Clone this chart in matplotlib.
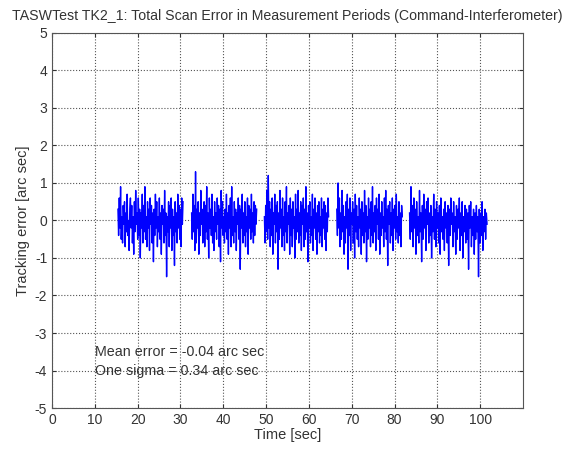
import numpy as np
import matplotlib
matplotlib.use("Agg")
from matplotlib import pyplot as plt

plt.rcParams['font.family'] = ['Liberation Sans', 'DejaVu Sans']
plt.rcParams['axes.unicode_minus'] = False

# measurement periods [start, end] in seconds
periods = [(15.4, 30.6), (32.6, 47.8), (49.6, 64.6), (66.5, 81.8), (83.5, 101.6)]

seg1 = [0.3,-0.4,0.6,-0.2,0.9,-0.5,0.1,-0.6,0.4,-0.1,
        0.5,-0.7,0.2,-0.3,0.7,-0.4,0.0,-0.8,0.3,0.6,
        -0.2,0.4,-0.6,0.1,-0.9,0.5,-0.3,0.8,-0.1,0.2,
        -0.5,0.6,-0.4,0.3,-1.0,0.2,-0.2,0.7,-0.6,0.4,
        -0.3,0.9,-0.5,0.1,-0.7,0.5,-0.2,0.3,-0.8,0.6,
        -0.1,0.4,-0.6,0.2,-1.1,0.3,-0.4,0.7,-0.2,0.5,
        -0.7,0.1,-0.3,0.6,-0.5,0.2,-0.9,0.4,-0.1,0.3,
        -0.6,0.8,-0.4,0.2,-1.5,0.1,-0.3,0.5,-0.7,0.4,
        -0.2,0.6,-0.8,0.3,-0.4,0.1,-1.2,0.5,-0.3,0.2,
        -0.6,0.7,-0.2,0.4,-0.5,0.3,-0.7,0.6,-0.1,0.5]

seg2 = [0.2,-0.5,0.7,-0.3,0.4,-0.8,1.3,-0.6,0.3,-0.2,
        0.5,-0.9,0.2,-0.4,0.8,-0.1,0.3,-0.6,0.1,0.5,
        -0.7,0.4,-0.3,0.9,-0.5,0.2,-1.0,0.6,-0.2,0.3,
        -0.4,0.7,-0.6,0.1,-0.8,0.5,-0.3,0.2,-0.5,0.6,
        -0.1,0.4,-0.7,0.3,-1.1,0.8,-0.2,0.5,-0.4,0.1,
        -0.6,0.3,-0.3,0.7,-0.5,0.2,-0.9,0.4,-0.2,0.6,
        -0.7,0.9,-0.4,0.1,-0.6,0.5,-0.3,0.3,-0.8,0.2,
        -0.1,0.6,-0.5,0.4,-1.3,0.3,-0.2,0.7,-0.6,0.2,
        -0.4,0.5,-0.7,0.1,-0.3,0.6,-0.9,0.4,-0.2,0.3,
        -0.5,0.7,-0.3,0.2,-0.6,0.5,-0.4,0.4,-0.1,0.3]

seg3 = [0.1,-0.6,0.4,-0.3,0.8,-0.5,1.2,-0.2,0.5,-0.7,
        0.3,-0.4,0.6,-0.9,0.2,-0.1,0.7,-0.6,0.4,-0.3,
        0.5,-1.3,0.2,-0.5,0.8,-0.2,0.3,-0.7,0.6,-0.4,
        0.1,-0.8,0.5,-0.3,0.9,-0.6,0.2,-0.1,0.4,-0.9,
        0.6,-0.4,0.3,-0.7,0.5,-0.2,0.1,-1.0,0.7,-0.5,
        0.3,-0.3,0.8,-0.6,0.2,-0.4,0.5,-0.8,0.4,-0.1,
        0.6,-0.7,0.3,-0.5,0.9,-0.3,0.2,-1.1,0.4,-0.2,
        0.5,-0.6,0.1,-0.4,0.7,-0.8,0.3,-0.2,0.6,-0.5,
        0.2,-0.9,0.4,-0.3,0.5,-0.6,0.1,-0.4,0.6,-0.7,
        0.3,-0.2,0.5,-0.5,0.4,-0.8,0.2,-0.3,0.6,0.1]

seg4 = [0.3,-0.4,1.0,-0.2,0.6,-0.7,0.2,-0.5,0.8,-0.3,
        0.4,-0.9,0.1,-0.6,0.5,-0.2,0.7,-1.3,0.3,-0.4,
        0.6,-0.8,0.2,-0.1,0.5,-0.6,0.3,-1.0,0.7,-0.3,
        0.4,-0.5,0.1,-0.7,0.6,-0.2,0.3,-0.9,0.5,-0.4,
        0.2,-0.6,0.8,-0.3,0.4,-1.1,0.1,-0.5,0.6,-0.2,
        0.3,-0.7,0.5,-0.4,0.9,-0.6,0.2,-0.3,0.4,-0.8,
        0.6,-0.1,0.3,-0.5,0.7,-0.9,0.2,-0.4,0.5,-0.2,
        0.1,-0.7,0.6,-0.3,0.8,-0.5,0.3,-1.2,0.4,-0.1,
        0.5,-0.6,0.2,-0.4,0.6,-0.8,0.3,-0.2,0.4,-0.5,
        0.7,-0.3,0.1,-0.6,0.5,-0.4,0.2,-0.7,0.4,0.1]

seg5 = [0.2,-0.5,0.9,-0.3,0.4,-0.7,0.6,-0.2,0.3,-0.9,
        0.5,-0.4,0.1,-0.6,0.8,-0.3,0.2,-1.1,0.4,-0.5,
        0.7,-0.2,0.3,-0.8,0.5,-0.1,0.6,-0.6,0.2,-0.4,
        0.4,-1.0,0.1,-0.3,0.7,-0.5,0.3,-0.7,0.5,-0.2,
        0.2,-0.6,0.4,-0.9,0.6,-0.3,0.1,-0.5,0.3,-0.8,
        0.5,-0.2,0.2,-0.6,0.4,-1.2,0.3,-0.4,0.6,-0.1,
        0.2,-0.7,0.5,-0.3,0.1,-0.9,0.4,-0.5,0.3,-0.2,
        0.6,-0.8,0.2,-0.4,0.5,-1.0,0.1,-0.3,0.4,-0.6,
        0.3,-0.5,0.2,-1.3,0.4,-0.2,0.5,-0.7,0.1,-0.4,
        0.3,-0.9,0.2,-0.5,0.4,-0.3,0.1,-1.5,0.3,-0.6,
        0.2,-0.4,0.5,-0.8,0.1,-0.3,0.3,-0.5,0.2,-0.1]

segments = [seg1, seg2, seg3, seg4, seg5]

mean_err = -0.04
one_sigma = 0.34

fig = plt.figure(figsize=(5.74, 4.51), dpi=100)
ax = fig.add_axes([0.0906, 0.0953, 0.8206, 0.8317])

for (t0, t1), seg in zip(periods, segments):
    t = np.linspace(t0, t1, len(seg))
    ax.plot(t, seg, color=(0, 0, 1), lw=1.0)

ax.set_xlim(0, 110)
ax.set_ylim(-5, 5)
ax.set_xticks(np.arange(0, 101, 10))
ax.set_yticks(np.arange(-5, 6, 1))
ax.grid(True, linestyle=':', color='#555555', lw=0.8)
ax.tick_params(direction='in', top=True, right=True, labelsize=10, colors='#333333', length=3)
for sp in ax.spines.values():
    sp.set_color('#555555')

ax.set_title("TASWTest TK2_1: Total Scan Error in Measurement Periods (Command-Interferometer)",
             fontsize=10.2, color='#333333', pad=9)
ax.set_xlabel("Time [sec]", fontsize=10.5, color='#333333', labelpad=1)
ax.set_ylabel("Tracking error [arc sec]", fontsize=10.5, color='#333333', labelpad=3)

ax.text(10, -3.5, "Mean error = %.2f arc sec" % mean_err, fontsize=10.3, color='#333333', va='center')
ax.text(10, -4.0, "One sigma = %.2f arc sec" % one_sigma, fontsize=10.3, color='#333333', va='center')

fig.savefig("out.png", dpi=100)
